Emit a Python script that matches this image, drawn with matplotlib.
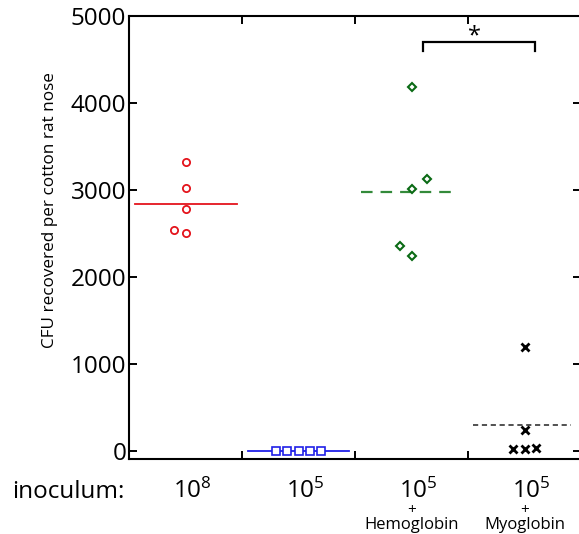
import numpy as np
import matplotlib
matplotlib.use("Agg")
import matplotlib.pyplot as plt

plt.rcParams['font.family'] = ['Open Sans', 'DejaVu Sans']
plt.rcParams['mathtext.fontset'] = 'custom'
plt.rcParams['mathtext.rm'] = 'Open Sans'
plt.rcParams['mathtext.it'] = 'Open Sans'

# CFU per nose, one list per inoculum group
cfu_1e8 = [3322, 3020, 2778, 2544, 2506]
cfu_1e5 = [0, 0, 0, 0, 0]
cfu_hemo = [4180, 3130, 3008, 2356, 2238]
cfu_myo = [1192, 236, 25, 25, 35]

# horizontal jitter used in the original so points don't overlap
jit_1e8 = [0, 0, 0, -0.1, 0]
jit_1e5 = [-0.2, -0.1, 0, 0.1, 0.2]
jit_hemo = [0, 0.14, 0, -0.1, 0]
jit_myo = [0, 0, -0.1, 0, 0.1]

group_exp = ['8', '5', '5', '5']
group_extra = ['', '', 'Hemoglobin', 'Myoglobin']

fig = plt.figure(figsize=(5.79, 5.34), dpi=100)
ax = fig.add_axes([129 / 579, 1 - 459 / 534, 452 / 579, 443 / 534])

red = '#e4141c'
blue = '#2020e8'
green = '#0a6a14'
green_line = '#338a3a'

# 10^8
x = 1 + np.array(jit_1e8)
ax.plot(x, cfu_1e8, 'o', ms=5.2, mfc='none', mec=red, mew=1.3, zorder=3)
ax.plot([1 - 0.45, 1 + 0.46], [np.mean(cfu_1e8)] * 2, color=red, lw=1.3)

# 10^5
x = 2 + np.array(jit_1e5)
ax.plot([2 - 0.45, 2 + 0.45], [np.mean(cfu_1e5)] * 2, color=blue, lw=1.3)
ax.plot(x, cfu_1e5, 's', ms=6.4, mfc='white', mec=blue, mew=1.2, zorder=3)

# 10^5 + hemoglobin
x = 3 + np.array(jit_hemo)
ax.plot([3 - 0.45, 3 + 0.38], [np.mean(cfu_hemo)] * 2, color=green_line, lw=1.6,
        dashes=(5.2, 3.6))
ax.plot(x, cfu_hemo, 'D', ms=4.3, mfc='white', mec=green, mew=1.5, zorder=3)

# 10^5 + myoglobin
x = 4 + np.array(jit_myo)
ax.plot([4 - 0.455, 4 + 0.41], [np.mean(cfu_myo)] * 2, color='#222222', lw=1.1,
        dashes=(3.4, 2.4))
ax.plot(x, cfu_myo, 'x', ms=6.2, color='black', mew=2.0, zorder=3)

# significance bracket
bx0, bx1 = 3.1, 4.09
ax.plot([bx0, bx0, bx1, bx1], [4600, 4705, 4705, 4600], color='black', lw=1.6,
        solid_joinstyle='miter')
ax.text((bx0 + bx1) / 2 - 0.04, 4700, '*', ha='center', va='baseline', fontsize=17)

ax.set_xlim(0.5, 4.5)
ax.set_ylim(-92, 5000)
ax.set_yticks([0, 1000, 2000, 3000, 4000, 5000])
ax.set_xticks([1.5, 2.5, 3.5])
ax.set_xticklabels([])
ax.tick_params(direction='in', length=6, width=1.4, top=True, right=True,
               labelsize=17.5, pad=2)
for s in ax.spines.values():
    s.set_linewidth(1.5)

fig.text(50 / 579, 1 - 210 / 534, 'CFU recovered per cotton rat nose',
         rotation=90, ha='center', va='center', fontsize=12.3)

tr = ax.get_xaxis_transform()
for i in range(4):
    xc = i + 1
    ax.text(xc + 0.06, -0.088, '$10^{%s}$' % group_exp[i], transform=tr,
            ha='center', va='baseline', fontsize=17.5)
    if group_extra[i]:
        ax.text(xc, -0.124, '+', transform=tr, ha='center', va='baseline', fontsize=11)
        ax.text(xc, -0.157, group_extra[i], transform=tr, ha='center',
                va='baseline', fontsize=12)

fig.text(12 / 579, 1 - 498 / 534, 'inoculum:', ha='left', va='baseline',
         fontsize=17.5)

fig.savefig('out.png', dpi=100)
